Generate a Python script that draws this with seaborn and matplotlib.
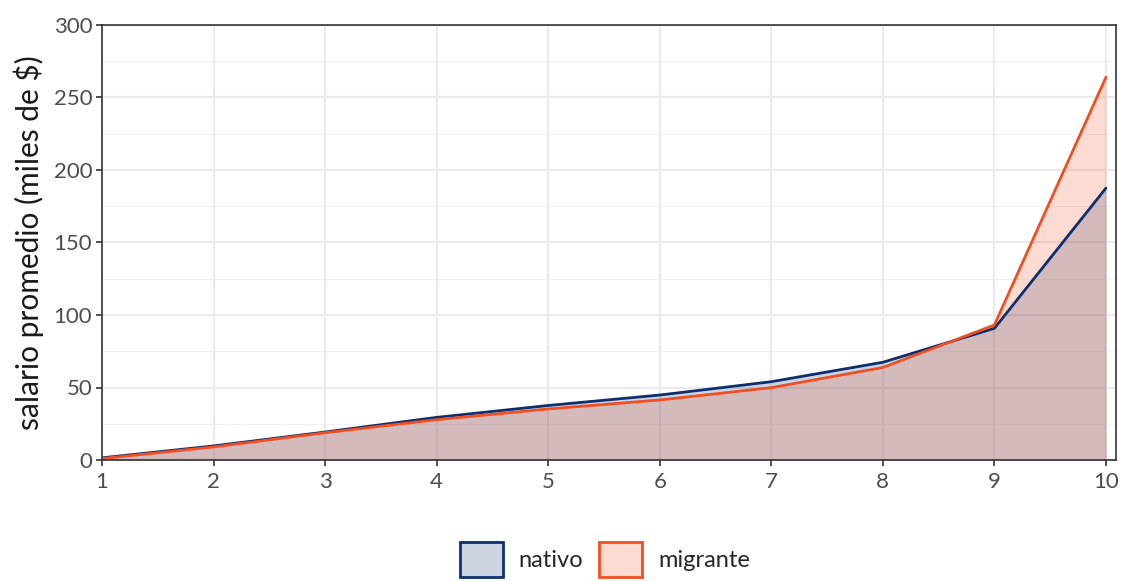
import pandas as pd
import matplotlib.pyplot as plt
import matplotlib.colors as mcolors
import seaborn as sns
from matplotlib.patches import Patch

# data (average wage by decile, thousands of $)
deciles  = [1, 2, 3, 4, 5, 6, 7, 8, 9, 10]
nativo   = [1.5, 9.7, 19.3, 29.4, 37.6, 44.8, 54.0, 67.4, 90.8, 187.5]
migrante = [1.0, 9.0, 18.8, 27.8, 35.2, 41.4, 49.9, 63.8, 93.1, 264.0]
groups   = ["nativo", "migrante"]
colors   = {"nativo": "#0e2f6e", "migrante": "#f04e23"}

df = pd.DataFrame({
    "decil": deciles * 2,
    "salario": nativo + migrante,
    "grupo": ["nativo"] * len(deciles) + ["migrante"] * len(deciles),
})

sns.set_theme(style="white")
plt.rcParams["font.family"] = ["Lato", "DejaVu Sans"]

fig = plt.figure(figsize=(11.22, 5.81), dpi=100)
ax = fig.add_axes([102 / 1122, 1 - 460 / 581, (1116 - 102) / 1122, (460 - 25) / 581])

# grid
for y in range(25, 300, 50):
    ax.axhline(y, color="#f2f2f2", lw=0.8, zorder=0)
for y in range(0, 301, 50):
    ax.axhline(y, color="#ebebeb", lw=1.6, zorder=0)
for x in deciles:
    ax.axvline(x, color="#ebebeb", lw=1.6, zorder=0)

# areas
for g in groups:
    sub = df[df["grupo"] == g]
    ax.fill_between(sub["decil"], 0, sub["salario"], color=colors[g], alpha=0.2, lw=0, zorder=1)

sns.lineplot(data=df, x="decil", y="salario", hue="grupo", hue_order=groups,
             palette=colors, linewidth=2, legend=False, ax=ax, zorder=2)

ax.set_xlim(1, 10.09)
ax.set_ylim(0, 300)
ax.set_xticks(deciles)
ax.set_yticks(range(0, 301, 50))
ax.set_xlabel("")
ax.set_ylabel("salario promedio (miles de $)", fontsize=21.5, color="#1a1a1a", labelpad=7)
ax.tick_params(axis="both", labelsize=16, labelcolor="#4d4d4d", color="#333333",
               length=4, width=1.2, direction="out", pad=3)
ax.tick_params(axis="x", pad=5)
ax.tick_params(left=True, bottom=True)
for s in ax.spines.values():
    s.set_color("#333333")
    s.set_linewidth(1.2)

handles = [Patch(facecolor=(*mcolors.to_rgb(colors[g]), 0.2), edgecolor=colors[g],
                 linewidth=2, label=g) for g in groups]
fig.legend(handles=handles, loc="upper center", bbox_to_anchor=(605 / 1122, 0.084), ncol=2,
           frameon=False, fontsize=17, handlelength=1.82, handleheight=1.9,
           handletextpad=0.68, columnspacing=0.68, borderaxespad=0)

plt.savefig("out.png", dpi=100)
